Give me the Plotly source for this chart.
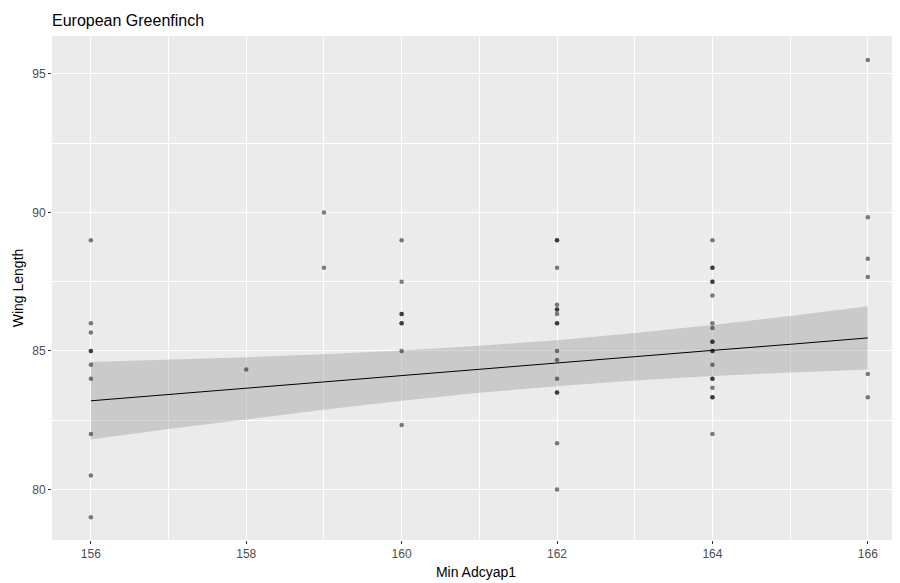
import plotly.graph_objects as go

# Observed points (min Adcyap1 vs wing length); repeated values = overlapping points
x_156 = [89, 86, 85.67, 85, 85, 84.5, 84, 82, 80.5, 79]
x_158 = [84.33]
x_159 = [90, 88]
x_160 = [89, 87.5, 86.33, 86.33, 86, 86, 85, 82.33]
x_162 = [89, 89, 88, 86.67, 86.5, 86.5, 86.33, 86, 86, 85, 84.67, 84, 83.5, 83.5, 81.67, 80]
x_164 = [89, 88, 88, 87.5, 87.5, 87, 86, 85.83, 85.33, 85.33, 85, 85, 84.5, 84, 84, 83.67, 83.33, 83.33, 82]
x_166 = [95.5, 89.83, 88.33, 87.67, 84.17, 83.33]

groups = {156: x_156, 158: x_158, 159: x_159, 160: x_160, 162: x_162, 164: x_164, 166: x_166}

# Fitted line and confidence band
fit_x = [156, 157, 158, 159, 160, 161, 162, 163, 164, 165, 166]
fit_y = [83.20, 83.43, 83.65, 83.88, 84.11, 84.34, 84.56, 84.79, 85.02, 85.24, 85.47]
fit_upper = [84.60, 84.68, 84.77, 84.88, 85.02, 85.19, 85.39, 85.65, 85.94, 86.26, 86.61]
fit_lower = [81.80, 82.18, 82.53, 82.88, 83.20, 83.49, 83.73, 83.93, 84.10, 84.22, 84.33]

x_ticks = [156, 158, 160, 162, 164, 166]
y_ticks = [80, 85, 90, 95]

px, py = [], []
for k, vals in groups.items():
    for v in vals:
        px.append(k)
        py.append(v)

fig = go.Figure()
fig.add_trace(go.Scatter(x=fit_x + fit_x[::-1], y=fit_upper + fit_lower[::-1],
                         fill="toself", fillcolor="rgba(153,153,153,0.4)",
                         line=dict(width=0), mode="lines", hoverinfo="skip", showlegend=False))
fig.add_trace(go.Scatter(x=px, y=py, mode="markers",
                         marker=dict(color="rgba(0,0,0,0.5)", size=4.5, line=dict(width=0)),
                         showlegend=False))
fig.add_trace(go.Scatter(x=fit_x, y=fit_y, mode="lines",
                         line=dict(color="black", width=1), showlegend=False))

axis_common = dict(
    showgrid=True, gridcolor="white", gridwidth=1.1, zeroline=False,
    ticks="outside", ticklen=3, tickcolor="#333333", tickwidth=1,
    tickfont=dict(family="Liberation Sans, Arial", size=12, color="#4D4D4D"),
    showline=False, automargin=False,
)

# The page body has an 8px margin, so the figure is 892x575 and offset by 8px.
W, H = 892, 575
fig.update_layout(
    width=W, height=H,
    margin=dict(l=44, r=0, t=28, b=43),
    paper_bgcolor="white", plot_bgcolor="#EBEBEB",
    font=dict(family="Liberation Sans, Arial", color="black"),
    title=dict(text="European Greenfinch", x=44/W, xanchor="left", y=1-12/H, yanchor="middle",
               font=dict(size=16, color="black")),
    xaxis=dict(range=[155.5, 166.414], tickvals=x_ticks, ticktext=[str(t) for t in x_ticks],
               minor=dict(tickvals=[157, 159, 161, 163, 165], showgrid=True, gridcolor="white",
                          gridwidth=0.5, ticks=""),
               title=dict(text="Min Adcyap1", font=dict(size=14, color="black"), standoff=6),
               **axis_common),
    yaxis=dict(range=[78.175, 96.37], tickvals=y_ticks, ticktext=[str(t) for t in y_ticks],
               minor=dict(tickvals=[82.5, 87.5, 92.5], showgrid=True, gridcolor="white",
                          gridwidth=0.5, ticks=""),
               title=dict(text="Wing Length", font=dict(size=14, color="black"), standoff=5),
               **axis_common),
)

fig.write_html("out.html")
